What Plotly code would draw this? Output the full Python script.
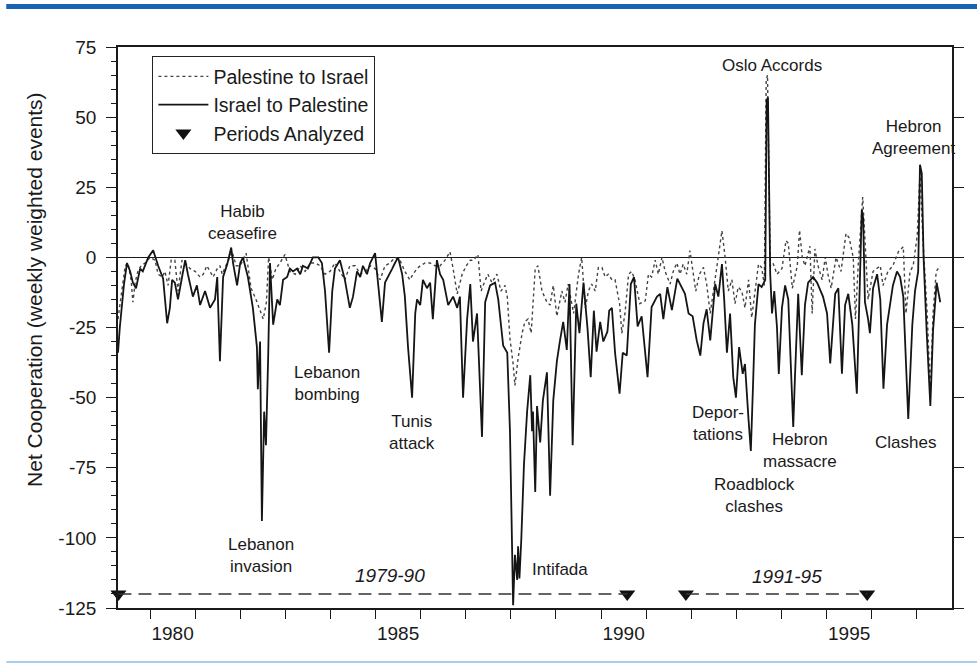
import plotly.graph_objects as go

# ---------------- data (decimal years, weekly weighted events) ----------------
israel_years = [1979.29, 1979.33, 1979.42, 1979.49, 1979.56, 1979.62, 1979.69, 1979.78, 1979.84, 1979.96,
                1980.07, 1980.18, 1980.29, 1980.38, 1980.44, 1980.49, 1980.55, 1980.62, 1980.71, 1980.78,
                1980.84, 1980.95, 1981.04, 1981.11, 1981.22, 1981.33, 1981.44, 1981.49, 1981.55, 1981.62,
                1981.71, 1981.80, 1981.84, 1981.93, 1982.00, 1982.06, 1982.17, 1982.28, 1982.37, 1982.39,
                1982.44, 1982.48, 1982.53, 1982.57, 1982.62, 1982.66, 1982.73, 1982.82, 1982.88, 1982.95,
                1983.04, 1983.10, 1983.17, 1983.26, 1983.33, 1983.39, 1983.50, 1983.61, 1983.73, 1983.81,
                1983.88, 1983.97, 1984.04, 1984.10, 1984.21, 1984.32, 1984.43, 1984.50, 1984.59, 1984.66,
                1984.72, 1984.81, 1984.88, 1984.99, 1985.06, 1985.14, 1985.21, 1985.28, 1985.37, 1985.43,
                1985.50, 1985.59, 1985.65, 1985.72, 1985.81, 1985.88, 1985.92, 1985.99, 1986.05, 1986.14,
                1986.21, 1986.27, 1986.36, 1986.43, 1986.50, 1986.61, 1986.72, 1986.81, 1986.87, 1986.94,
                1987.03, 1987.10, 1987.16, 1987.25, 1987.36, 1987.43, 1987.54, 1987.65, 1987.72, 1987.83,
                1987.92, 1987.98, 1988.05, 1988.09, 1988.14, 1988.16, 1988.19, 1988.23, 1988.29, 1988.36,
                1988.43, 1988.47, 1988.49, 1988.54, 1988.58, 1988.65, 1988.71, 1988.80, 1988.87, 1988.94,
                1989.02, 1989.09, 1989.16, 1989.24, 1989.30, 1989.37, 1989.45, 1989.52, 1989.61, 1989.70,
                1989.77, 1989.84, 1989.90, 1989.98, 1990.05, 1990.14, 1990.18, 1990.24, 1990.31, 1990.41,
                1990.48, 1990.57, 1990.66, 1990.73, 1990.81, 1990.90, 1991.03, 1991.12, 1991.24, 1991.31,
                1991.38, 1991.47, 1991.57, 1991.69, 1991.79, 1991.86, 1991.94, 1992.03, 1992.12, 1992.20,
                1992.27, 1992.34, 1992.42, 1992.48, 1992.53, 1992.60, 1992.68, 1992.73, 1992.79, 1992.86,
                1992.93, 1992.99, 1993.06, 1993.14, 1993.19, 1993.27, 1993.32, 1993.37, 1993.41, 1993.49,
                1993.56, 1993.64, 1993.67, 1993.70, 1993.75, 1993.79, 1993.84, 1993.90, 1993.94, 1994.01,
                1994.08, 1994.15, 1994.22, 1994.26, 1994.30, 1994.37, 1994.45, 1994.52, 1994.59, 1994.70,
                1994.79, 1994.86, 1994.92, 1995.01, 1995.08, 1995.19, 1995.26, 1995.34, 1995.41, 1995.48,
                1995.57, 1995.67, 1995.72, 1995.78, 1995.81, 1995.85, 1995.92, 1995.96, 1996.03, 1996.12,
                1996.19, 1996.26, 1996.34, 1996.41, 1996.47, 1996.56, 1996.63, 1996.70, 1996.81, 1996.90,
                1996.96, 1997.03, 1997.07, 1997.11, 1997.15, 1997.22, 1997.30, 1997.36, 1997.44, 1997.52]
israel_values = [-34, -25, -10, -2, -5, -9, -11, -4, -5, 0,
                 2.5, -3, -7.5, -23.5, -18, -8, -9, -15, -7, -1,
                 -6, -14, -10, -17, -12, -18, -15, -7, -37, -7,
                 -2.5, 3.5, -2, -10, -2, 0, -7, -18, -32, -47,
                 -30, -94, -55, -67, -35, -2, -24, -15, -17, -8,
                 -7, -4, -5, -4, -6, -3, -4, 0, 0, -2,
                 -12, -34, -12, -4, -1, -8, -18, -14, -5, -7,
                 -3, -6, -2, 1.5, -10, -23, -9, -7, -4, -2,
                 0, -6, -14, -32, -50, -20, -15, -17, -8, -11,
                 -9, -22, -1, -6, -8, -17, -14, -18, -14, -50,
                 -22, -9.5, -30, -20, -64, -16, -10, -9, -15, -31.5,
                 -34, -62, -124, -106, -115, -103, -114.5, -101, -74, -55,
                 -42, -62, -55, -83.6, -53, -66, -51, -41, -85, -51,
                 -37, -29.6, -23, -33, -9.5, -67, -16.5, -27, -9, -25.5,
                 -42.7, -19, -33.6, -23, -30, -26.5, -19, -18, -34, -48.6,
                 -34, -35, -9.5, -7, -24.6, -21, -42.7, -17.7, -14, -13,
                 -22, -10.6, -18.8, -7.6, -10.6, -13, -20, -21, -29.6, -35,
                 -23.5, -18.5, -29.6, -17.7, -9.5, -14, -2.4, -15.2, -34, -20,
                 -42.7, -50, -32, -41.5, -38, -58, -69, -45, -24, -9.5,
                 -10.6, -8, 56, 57, -6, -20, -12, -25, -41.6, -18,
                 -10, -15, -48.6, -60.5, -42, -13, -42, -17, -9, -7,
                 -9, -12, -14, -20, -37.8, -13, -11, -41.5, -17, -13,
                 -24, -48.6, -20, 17, 14, -16, -22, -27, -11, -6,
                 -15, -46.8, -24, -17, -10, -5, -7, -14, -57.6, -24,
                 -12, -5, 33, 30, 0, -27, -53, -26, -9, -16]

palestine_years = [1979.29, 1979.36, 1979.45, 1979.51, 1979.58, 1979.62, 1979.67, 1979.73, 1979.80, 1979.89,
                   1980.00, 1980.11, 1980.18, 1980.27, 1980.33, 1980.40, 1980.47, 1980.55, 1980.62, 1980.71,
                   1980.78, 1980.89, 1981.00, 1981.11, 1981.18, 1981.26, 1981.40, 1981.49, 1981.55, 1981.60,
                   1981.71, 1981.82, 1981.91, 1982.00, 1982.13, 1982.24, 1982.35, 1982.42, 1982.51, 1982.58,
                   1982.63, 1982.71, 1982.79, 1982.88, 1982.99, 1983.10, 1983.22, 1983.33, 1983.44, 1983.55,
                   1983.66, 1983.77, 1983.88, 1983.99, 1984.10, 1984.21, 1984.32, 1984.43, 1984.55, 1984.66,
                   1984.77, 1984.88, 1984.99, 1985.10, 1985.21, 1985.32, 1985.43, 1985.54, 1985.65, 1985.76,
                   1985.83, 1985.92, 1985.99, 1986.10, 1986.21, 1986.32, 1986.43, 1986.54, 1986.65, 1986.72,
                   1986.81, 1986.92, 1987.01, 1987.10, 1987.18, 1987.27, 1987.34, 1987.41, 1987.49, 1987.58,
                   1987.69, 1987.78, 1987.87, 1987.92, 1987.98, 1988.05, 1988.09, 1988.16, 1988.25, 1988.31,
                   1988.38, 1988.45, 1988.54, 1988.60, 1988.69, 1988.80, 1988.87, 1988.94, 1989.02, 1989.13,
                   1989.20, 1989.27, 1989.39, 1989.50, 1989.57, 1989.65, 1989.72, 1989.79, 1989.87, 1989.94,
                   1990.02, 1990.09, 1990.16, 1990.24, 1990.31, 1990.41, 1990.46, 1990.53, 1990.61, 1990.68,
                   1990.75, 1990.86, 1990.98, 1991.05, 1991.12, 1991.20, 1991.27, 1991.35, 1991.42, 1991.53,
                   1991.60, 1991.68, 1991.75, 1991.82, 1991.90, 1991.97, 1992.05, 1992.10, 1992.18, 1992.27,
                   1992.34, 1992.42, 1992.49, 1992.57, 1992.63, 1992.68, 1992.75, 1992.82, 1992.90, 1992.97,
                   1993.04, 1993.12, 1993.19, 1993.27, 1993.34, 1993.41, 1993.49, 1993.56, 1993.62, 1993.66,
                   1993.69, 1993.75, 1993.81, 1993.90, 1994.01, 1994.10, 1994.15, 1994.24, 1994.35, 1994.40,
                   1994.46, 1994.52, 1994.63, 1994.68, 1994.74, 1994.81, 1994.90, 1994.97, 1995.03, 1995.10,
                   1995.21, 1995.32, 1995.43, 1995.50, 1995.59, 1995.64, 1995.70, 1995.80, 1995.85, 1995.92,
                   1996.03, 1996.19, 1996.25, 1996.36, 1996.47, 1996.59, 1996.70, 1996.76, 1996.85, 1996.92,
                   1997.01, 1997.07, 1997.14, 1997.23, 1997.30, 1997.36, 1997.43, 1997.52]
palestine_values = [-22, -13, -3, -2, -8, -16, -9, -5, -3, -2,
                    0, -1, -6, -7, -5, -10, -1, -1, -12, -1,
                    -2, -4, -5, -7, -6, -3, -7, -4, -3, -6,
                    -2, 2, -3, -3, 1.5, -11, -15, -18, -22, -16,
                    0, -8, -4, -2, 1, -5, -6, -3, -5, -2,
                    -2, -3, -6, -5, -2, -5, -8, -3, -3, -6,
                    -5, -3, -4, -8, -3, -2, 0, -1, -5, -8,
                    -6, -4, -3, -2, -2, -3, -3, -1, 2, -4,
                    -13, -6, -3, -1, -1, 1, -12, -9, -6, -9,
                    -6, -12, -10, -14, -29, -38, -45.7, -36, -27, -23,
                    -22, -27, -4, -3, -12, -16, -17, -10, -21, -12,
                    -16, -9.5, -20, -6, 0, -18, -12, -9.5, -12, -3.6,
                    -3.6, -7, -6, -8, -8, -16.5, -27, -20, -6, -5,
                    -8, -16.5, -15.5, -6, -7, -1, -6, 0, -5, -9.5,
                    -5, -2, -6, -2.4, -6, 2.4, -6, -12, -6, -3.6,
                    -9.5, -20, -12, -2.4, 4.7, 9.5, 0, -12, -8, -16.5,
                    -10.6, -12, -18, -8, -21.5, -12, -2.4, -3.6, -10, 63,
                    65, -3, -2, -6, -4, 6, 5, -11, -3, 9.7,
                    0, -3, 4, -20, 3, -3, -8, 0, -6, -11,
                    0, -5, 8.5, 7, 0, -22, -3, 21.5, 7, -15,
                    -5, -3, -10, -5, -3, 2, 3.8, -20, -5, -3,
                    8, 30, 5, -20, -48, -20, -5, -3]

assert len(israel_years) == len(israel_values)
assert len(palestine_years) == len(palestine_values)

period_starts = [1979.30, 1991.88]
period_ends = [1990.58, 1995.90]
period_level = -120
period_labels = ["1979-90", "1991-95"]

year_ticks = list(range(1980, 1998))
year_labels = ["1980", "1985", "1990", "1995"]
y_ticks = [-125, -100, -75, -50, -25, 0, 25, 50, 75]
y_tick_text = ["-125", "-100", "-75", "-50", "-25", "0", "25", "50", "75"]

events = [
    ("Habib<br>ceasefire", 1982.04, 12.5),
    ("Lebanon<br>invasion", 1982.46, -106.3),
    ("Lebanon<br>bombing", 1983.92, -45.0),
    ("Tunis<br>attack", 1985.81, -62.5),
    ("Intifada", 1989.09, -111.2),
    ("Oslo Accords", 1993.79, 68.5),
    ("Hebron<br>Agreement", 1996.92, 42.9),
    ("Depor-<br>tations", 1992.59, -59.3),
    ("Hebron<br>massacre", 1994.41, -68.9),
    ("Roadblock<br>clashes", 1993.41, -84.9),
    ("Clashes", 1996.76, -66.0),
]
period_label_pos = [(1985.32, -113.3), (1994.12, -113.7)]

FONT = "Liberation Sans, Arial, sans-serif"
INK = "#1a1a1a"
X_RANGE = [1979.29, 1997.78]
Y_RANGE = [-125, 75]

fig = go.Figure()
fig.add_trace(go.Scatter(x=palestine_years, y=palestine_values, mode="lines",
                         name="Palestine to Israel",
                         line=dict(color="#444444", width=1.4, dash="dot")))
fig.add_trace(go.Scatter(x=israel_years, y=israel_values, mode="lines",
                         name="Israel to Palestine",
                         line=dict(color="#151515", width=1.8)))

dash_x, dash_y = [], []
for s, e in zip(period_starts, period_ends):
    dash_x += [s, e, None]
    dash_y += [period_level, period_level, None]
fig.add_trace(go.Scatter(x=dash_x, y=dash_y, mode="lines", showlegend=False,
                         line=dict(color="#333333", width=1.6, dash="13px,7px"),
                         xaxis="x2", yaxis="y2", hoverinfo="skip"))
fig.add_trace(go.Scatter(x=period_starts + period_ends,
                         y=[period_level] * (len(period_starts) + len(period_ends)),
                         mode="markers", name="Periods Analyzed", cliponaxis=False,
                         marker=dict(symbol="triangle-down", size=14, color="#111111")))

annotations = []
for txt, xx, yy in events:
    annotations.append(dict(x=xx, y=yy, xref="x", yref="y", text=txt, showarrow=False,
                            font=dict(family=FONT, size=17, color=INK),
                            xanchor="center", yanchor="middle", align="center"))
for lbl, (xx, yy) in zip(period_labels, period_label_pos):
    annotations.append(dict(x=xx, y=yy, xref="x", yref="y", text="<i>" + lbl + "</i>",
                            showarrow=False, font=dict(family=FONT, size=19, color=INK),
                            xanchor="center", yanchor="middle"))
annotations.append(dict(x=-0.0995, y=0.567, xref="paper", yref="paper",
                        text="Net Cooperation (weekly weighted events)", textangle=-90,
                        showarrow=False, font=dict(family=FONT, size=21, color=INK),
                        xanchor="center", yanchor="middle"))

fig.update_layout(
    width=977, height=671,
    margin=dict(l=118, r=25, t=47, b=63),
    paper_bgcolor="white", plot_bgcolor="white",
    font=dict(family=FONT, color=INK),
    showlegend=True,
    legend=dict(x=0.041, y=0.984, xanchor="left", yanchor="top",
                bgcolor="white", bordercolor="#222222", borderwidth=1.2,
                font=dict(family=FONT, size=19.5, color=INK),
                tracegroupgap=0, itemwidth=50),
    annotations=annotations,
    xaxis=dict(range=X_RANGE, showgrid=False, zeroline=False,
               showline=True, linecolor=INK, linewidth=2.2, mirror=True,
               tickmode="array", tickvals=year_ticks, ticktext=[""] * len(year_ticks),
               ticks="outside", ticklen=9, tickwidth=1.3, tickcolor=INK),
    xaxis2=dict(range=X_RANGE, overlaying="x", anchor="y", side="bottom",
                showgrid=False, zeroline=False, showline=False,
                tickmode="array", tickvals=[int(v) + 0.5 for v in year_labels],
                ticktext=year_labels, ticks="", ticklabelstandoff=12,
                tickfont=dict(family=FONT, size=19, color=INK)),
    yaxis=dict(range=Y_RANGE, showgrid=False,
               zeroline=True, zerolinecolor=INK, zerolinewidth=1.3,
               showline=True, linecolor=INK, linewidth=1.6,
               tickmode="array", tickvals=y_ticks, ticktext=y_tick_text,
               ticks="outside", ticklen=10,
               tickwidth=1.3, tickcolor=INK, ticklabelstandoff=6,
               tickfont=dict(family=FONT, size=19, color=INK),
               minor=dict(tickmode="linear", tick0=0, dtick=5, ticks="outside",
                          ticklen=5, tickwidth=1, tickcolor=INK, showgrid=False)),
    yaxis2=dict(range=Y_RANGE, overlaying="y", anchor="x2", side="right", showgrid=False,
                zeroline=False, showline=True, linecolor=INK, linewidth=1.6,
                tickmode="array", tickvals=y_ticks, ticks="outside", ticklen=10,
                tickwidth=1.3, tickcolor=INK, showticklabels=False),
    shapes=[
        dict(type="rect", xref="paper", yref="paper", x0=-0.134, x1=1.03,
             y0=1.0677, y1=1.0766, fillcolor="#1565b4", line=dict(width=0), layer="above"),
        dict(type="rect", xref="paper", yref="paper", x0=-0.134, x1=1.03,
             y0=-0.0980, y1=-0.0945, fillcolor="#a8cfee", line=dict(width=0), layer="above"),
    ],
)

fig.write_html("out.html",
               config={"displayModeBar": False},
               post_script="document.body.style.margin='0';document.body.style.overflow='hidden';")
